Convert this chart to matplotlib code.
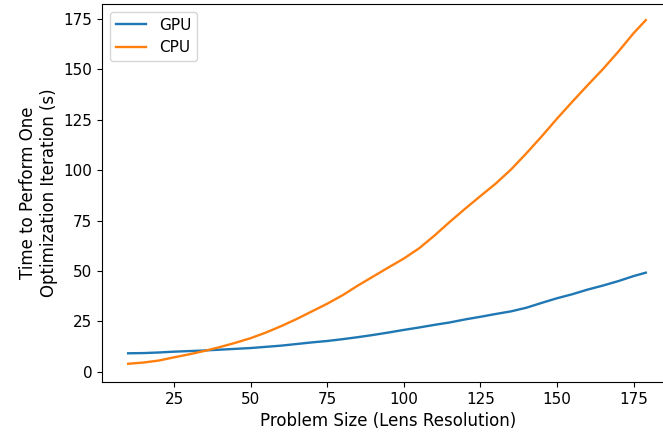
import numpy as np
import matplotlib
matplotlib.use('Agg')
import matplotlib.pyplot as plt

# problem size (lens resolution) and timing per optimization iteration
sizes = [10, 15, 20, 25, 30, 35, 40, 45, 50, 55, 60, 65, 70, 75, 80, 85, 90,
         95, 100, 105, 110, 115, 120, 125, 130, 135, 140, 145, 150, 155, 160,
         165, 170, 175, 179]
gpu_times = [9.2, 9.3, 9.6, 10.0, 10.3, 10.6, 11.0, 11.4, 11.8, 12.4, 13.0, 13.8,
             14.6, 15.3, 16.2, 17.2, 18.3, 19.5, 20.8, 22.0, 23.3, 24.5, 26.0,
             27.3, 28.7, 30.0, 31.8, 34.2, 36.5, 38.5, 40.8, 42.8, 45.0, 47.5, 49.2]
cpu_times = [4.0, 4.6, 5.6, 7.2, 8.7, 10.4, 12.3, 14.4, 16.7, 19.5, 22.7, 26.2,
             30.0, 33.8, 38.0, 42.8, 47.3, 51.8, 56.2, 61.3, 67.6, 74.4, 80.9,
             87.2, 93.4, 100.4, 108.4, 116.8, 125.6, 134.0, 142.2, 150.2, 158.8,
             168.0, 174.5]

plt.rcParams['font.size'] = 11

fig = plt.figure(figsize=(6.63, 4.41), dpi=100)
# right edge of the axes runs past the figure (the original screenshot is cropped)
ax = fig.add_axes([0.154, 0.134, 0.864, 0.857])

ax.plot(sizes, gpu_times, label='GPU', lw=1.7)
ax.plot(sizes, cpu_times, label='CPU', lw=1.7)

ax.set_xlim(1.5, 188.5)
ax.set_ylim(-5, 182.5)
ax.set_xticks([25, 50, 75, 100, 125, 150, 175])
ax.set_yticks([0, 25, 50, 75, 100, 125, 150, 175])
ax.set_xlabel('Problem Size (Lens Resolution)', fontsize=12)
ax.set_ylabel('Time to Perform One\nOptimization Iteration (s)', fontsize=12)
ax.legend(loc='upper left')

fig.savefig('out.png', dpi=100)
